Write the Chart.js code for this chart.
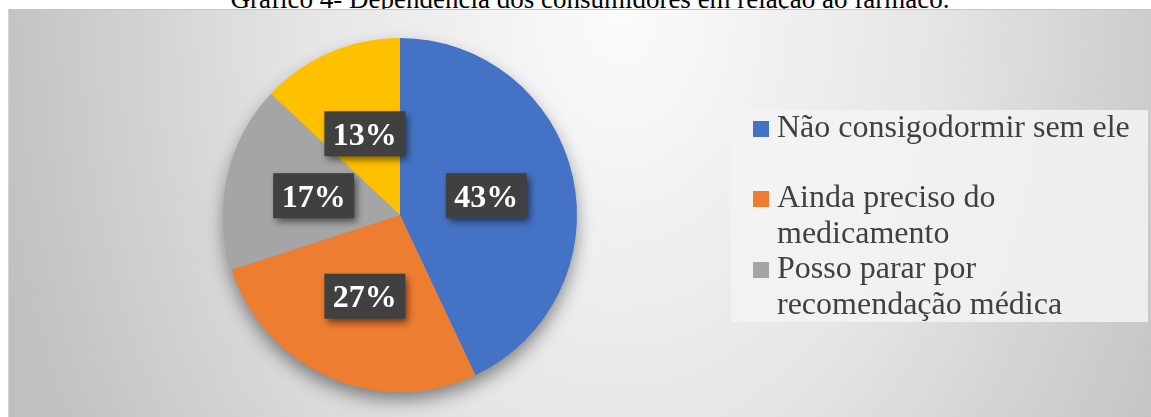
<!DOCTYPE html>
<html>
<head>
<meta charset="utf-8">
<script src="https://cdn.jsdelivr.net/npm/chart.js@4/dist/chart.umd.min.js"></script>
<style>
  html, body { margin: 0; padding: 0; background: #fff; overflow: hidden; }
  #page { position: relative; width: 1151px; height: 417px; overflow: hidden; }
  #title {
    position: absolute; left: 0; width: 1180px; top: -14px;
    text-align: center; font: 27px/27px "Liberation Serif", "Times New Roman", serif;
    color: #000; white-space: nowrap;
  }
  #box {
    position: absolute; left: 8px; top: 9px; width: 1143px; height: 408px;
    border-top: 1px solid #c6c6c6; border-left: 1px solid #d4d4d4;
    background: radial-gradient(ellipse 640px 900px at 612px 0px, #fbfbfb 0%, #e6e6e6 48%, #c0c0c0 100%);
  }
  #wrap { position: absolute; left: 0; top: 0; width: 1151px; height: 417px; }
  #legend {
    position: absolute; left: 731px; top: 110px; width: 417px; height: 212px;
    background: rgba(243, 243, 243, 0.85);
  }
  .item { position: absolute; left: 0; width: 417px; }
  .mark { position: absolute; left: 22px; width: 16px; height: 16px; }
  .txt {
    position: absolute; left: 46px; width: 360px;
    font: 32px/36px "Liberation Serif", "Times New Roman", serif; color: #404040;
  }
</style>
</head>
<body>
<div id="page">
  <div id="title">Gráfico 4- Dependência dos consumidores em relação ao fármaco.</div>
  <div id="box"></div>
  <div id="wrap"><canvas id="pie"></canvas></div>
  <div id="legend"></div>
</div>
<script>
// chart data
const categories = ['Não consigodormir sem ele', 'Ainda preciso do medicamento', 'Posso parar por recomendação médica', ''];
const percentages = [43, 27, 17, 13];
const sliceColors = ['#4472C4', '#ED7D31', '#A5A5A5', '#FFC000'];

// soft shadow under the whole pie
const pieShadow = {
    id: 'pieShadow',
    beforeDatasetsDraw(chart) {
        const arc = chart.getDatasetMeta(0).data[0];
        if (!arc) return;
        const ctx = chart.ctx;
        ctx.save();
        ctx.shadowColor = 'rgba(0,0,0,0.45)';
        ctx.shadowBlur = 18;
        ctx.shadowOffsetY = 9;
        ctx.fillStyle = '#999';
        ctx.beginPath();
        ctx.arc(arc.x, arc.y, arc.outerRadius - 1, 0, Math.PI * 2);
        ctx.fill();
        ctx.restore();
    }
};

// dark boxed percentage labels
const boxLabels = {
    id: 'boxLabels',
    afterDatasetsDraw(chart) {
        const ctx = chart.ctx;
        const meta = chart.getDatasetMeta(0);
        meta.data.forEach((arc, i) => {
            const p = arc.tooltipPosition();
            const w = 81, h = 45;
            ctx.save();
            ctx.shadowColor = 'rgba(0,0,0,0.55)';
            ctx.shadowBlur = 7;
            ctx.shadowOffsetX = 3;
            ctx.shadowOffsetY = 4;
            ctx.fillStyle = '#404040';
            ctx.fillRect(p.x - w / 2, p.y - h / 2, w, h);
            ctx.restore();
            ctx.save();
            ctx.fillStyle = '#ffffff';
            ctx.font = 'bold 32px "Liberation Serif", "Times New Roman", serif';
            ctx.textAlign = 'center';
            ctx.textBaseline = 'alphabetic';
            ctx.fillText(percentages[i] + '%', p.x, p.y + 11);
            ctx.restore();
        });
    }
};

new Chart(document.getElementById('pie'), {
    type: 'pie',
    data: {
        labels: categories,
        datasets: [{
            data: percentages,
            backgroundColor: sliceColors,
            borderWidth: 0
        }]
    },
    options: {
        responsive: true,
        maintainAspectRatio: false,
        animation: false,
        layout: {
            padding: { top: 38, bottom: 25, left: 223, right: 574 }
        },
        plugins: {
            legend: { display: false },
            tooltip: { enabled: false }
        }
    },
    plugins: [pieShadow, boxLabels]
});

// legend (Excel shows only the first three entries)
const legendTops = [-2, 68, 139];
const legend = document.getElementById('legend');
categories.slice(0, 3).forEach((label, i) => {
    const item = document.createElement('div');
    item.className = 'item';
    item.style.top = legendTops[i] + 'px';
    const mark = document.createElement('div');
    mark.className = 'mark';
    mark.style.top = '13px';
    mark.style.background = sliceColors[i];
    const txt = document.createElement('div');
    txt.className = 'txt';
    txt.textContent = label;
    item.appendChild(mark);
    item.appendChild(txt);
    legend.appendChild(item);
});
</script>
</body>
</html>
